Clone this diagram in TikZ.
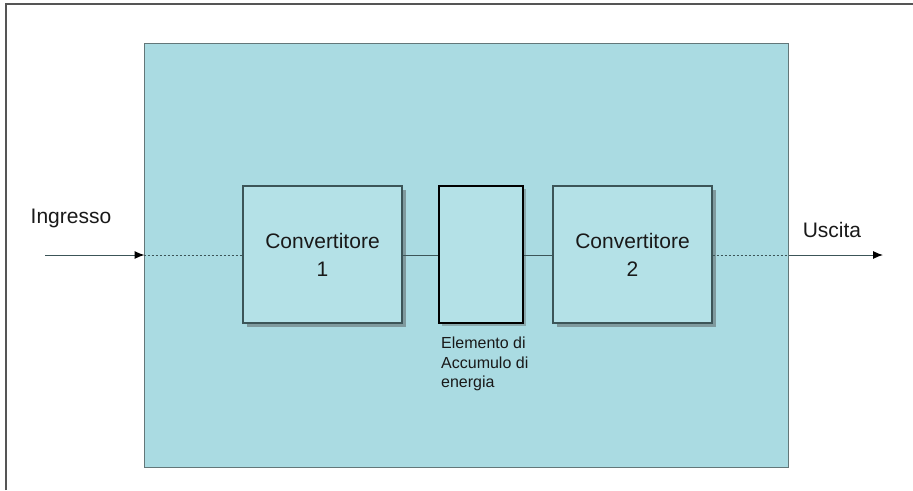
\documentclass[tikz,border=0pt]{standalone}
\usepackage{fontspec}
\setmainfont{Liberation Sans}
\usetikzlibrary{arrows.meta,shadows}
\definecolor{panelfill}{RGB}{170,219,226}
\definecolor{boxfill}{RGB}{180,225,231}
\definecolor{linec}{RGB}{60,85,88}
\definecolor{framec}{RGB}{85,85,85}
\tikzset{
  convbox/.style={draw=linec, line width=1.2pt, fill=boxfill, minimum width=159pt, minimum height=137pt, inner sep=0pt,
    align=center, text=black!90, font=\fontsize{21}{28}\selectfont,
    drop shadow={shadow xshift=4pt, shadow yshift=-4pt, opacity=0.45, fill=black!70}},
  storebox/.style={draw=black, line width=2.4pt, fill=boxfill, minimum width=84pt, minimum height=137pt, inner sep=0pt,
    drop shadow={shadow xshift=3pt, shadow yshift=-3pt, opacity=0.35, fill=black!70}},
  lbl/.style={font=\fontsize{21}{25}\selectfont, text=black!90, inner sep=0pt},
  wire/.style={draw=linec, line width=1pt},
  dwire/.style={draw=linec, line width=1pt, dash pattern=on 2.5pt off 1.5pt},
  arr/.style={draw=linec, line width=1pt, -{Latex[length=10pt,width=8pt,color=black]}, shorten >=-1pt}
}
\begin{document}
\begin{tikzpicture}[x=1pt,y=-1pt]
\useasboundingbox (0,0) rectangle (913,490);
\fill[white] (0,0) rectangle (913,490);
% outer frame
\draw[framec, line width=2pt] (6,490) -- (6,4) -- (913,4);
% panel
\node[draw=linec!80, line width=1pt, fill=panelfill, minimum width=644pt, minimum height=424pt, inner sep=0pt] (panel) at (466,255) {};
% boxes
\node[convbox] (c1) at (322.5,254.5) {Convertitore\\1};
\node[storebox] (st) at (481,254.5) {};
\node[convbox] (c2) at (632.5,254.5) {Convertitore\\2};
% labels
\node[lbl, anchor=center] (in) at (71,218) {Ingresso};
\node[lbl, anchor=center] (out) at (832,230) {Uscita};
\node[anchor=north west, align=left, inner sep=0pt, text=black!90, font=\fontsize{16}{19.5}\selectfont] (el) at (441,337) {Elemento di\\Accumulo di\\energia};
% coordinates
\coordinate (src) at (45,255);
\coordinate (dst) at (882,255);
\coordinate (pin) at (panel.west |- src);
\coordinate (pout) at (panel.east |- src);
% connectors
\draw[arr] (src) -- (pin);
\draw[dwire] (pin) -- (c1.west |- src);
\draw[wire] (c1.east |- src) -- (st.west |- src);
\draw[wire] (st.east |- src) -- (c2.west |- src);
\draw[dwire] (c2.east |- src) -- (pout);
\draw[arr] (pout) -- (dst);
\end{tikzpicture}
\end{document}
